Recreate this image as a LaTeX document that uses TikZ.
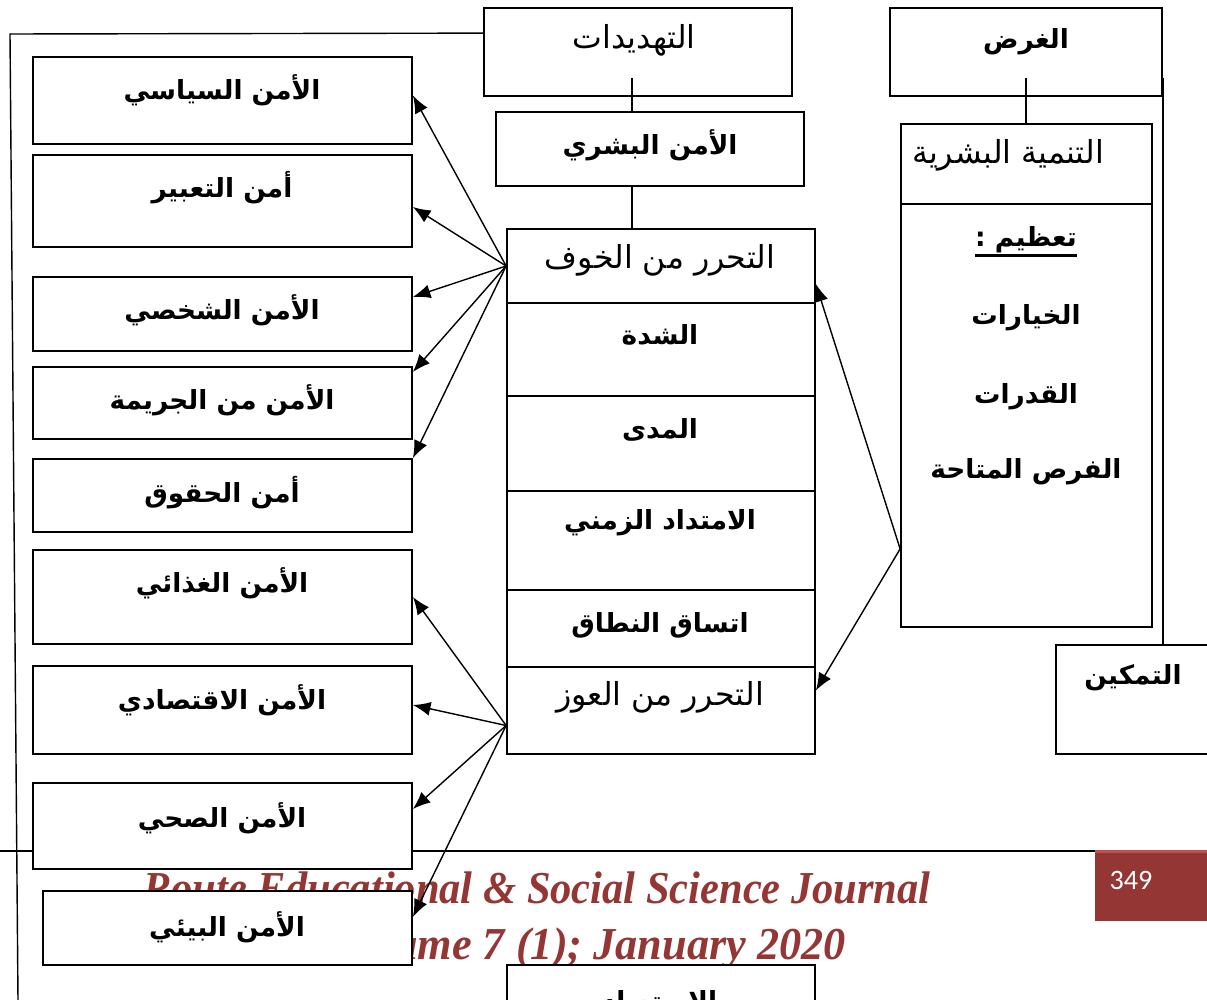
\documentclass[tikz,border=0pt]{standalone}
\usepackage{fontspec}
\usetikzlibrary{arrows.meta,calc,fit}
\TeXXeTstate=1
\newfontfamily\arabicfont[Script=Arabic]{DejaVu Sans}
\newfontfamily\footfont{Liberation Serif}
\newfontfamily\numfont{Carlito}
\definecolor{journalred}{HTML}{943634}
\definecolor{journallight}{HTML}{C0504D}
\newcommand\ar[1]{\beginR#1\endR}

\tikzset{
  box/.style={draw, fill=white, line width=1pt, inner sep=0pt},
  bold/.style={font=\arabicfont\bfseries\fontsize{15}{18}\selectfont},
  plain/.style={font=\arabicfont\fontsize{18}{22}\selectfont},
  link/.style={line width=0.8pt},
  arr/.style={link, -{Latex[length=10pt,width=8pt]}},
  foot/.style={font=\footfont\bfseries\itshape\fontsize{26}{30}\selectfont, text=journalred}
}

\begin{document}
\begin{tikzpicture}[x=0.02cm,y=-0.02cm]
\useasboundingbox (0,0) rectangle (1207,1000);
\clip (0,0) rectangle (1207,1000);
% page footer
\draw[line width=1.2pt] (0,851) -- (1095,851);
\fill[journalred] (1095,851) rectangle (1207,921);
\draw[journallight, line width=1.5pt] (1095,851.5) -- (1207,851.5);
\node[font=\numfont\fontsize{16}{18}\selectfont, text=white] (page) at (1131,880) {349};
\node[foot] (journal) at (537,888) {\scalebox{0.93}[1]{Route Educational \& Social Science Journal}};
\node[foot] (volume) at (590,949) {\scalebox{0.97}[1]{Volume 7 (1); January 2020}};

% top boxes
\node[box, fit={(484,8) (792,96)}] (threats) {};
\node[plain] (threatsT) at (634,40) {\ar{التهديدات}};
\node[box, fit={(890,8) (1162,96)}] (purp) {};
\node[bold] (purpT) at (1026,42) {\ar{الغرض}};
\node[box, fit={(496,112) (804,186)}] (human) {};
\node[bold] (humanT) at (650,145) {\ar{الأمن البشري}};

% middle column
\node[box, fit={(507,229) (815,303)}] (free) {};
\node[plain] (freeT) at (660,260) {\ar{التحرر من الخوف}};
\node[box, fit={(507,303) (815,396)}] (sev) {};
\node[bold] (sevT) at (660,335) {\ar{الشدة}};
\node[box, fit={(507,396) (815,491)}] (range) {};
\node[bold] (rangeT) at (660,430) {\ar{المدى}};
\node[box, fit={(507,491) (815,590)}] (dur) {};
\node[bold] (durT) at (660,523) {\ar{الامتداد الزمني}};
\node[box, fit={(507,590) (815,667)}] (cons) {};
\node[bold] (consT) at (660,625) {\ar{اتساق النطاق}};
\node[box, fit={(507,667) (815,754)}] (want) {};
\node[plain] (wantT) at (660,697) {\ar{التحرر من العوز}};
\node[box, fit={(507,965) (815,1040)}] (slave) {};
\node[bold] (slaveT) at (660,1003) {\ar{الاستعباد}};

% right column
\node[box, fit={(901,124) (1152,204)}] (devH) {};
\node[plain] (devHT) at (1008,155) {\ar{التنمية البشرية}};
\node[box, fit={(901,204) (1152,627)}] (devB) {};
\node[bold, inner sep=0pt] (org) at (1026,240) {\ar{تعظيم :}};
\draw[line width=1.6pt] ($(org.base west)+(0,9)$) -- ($(org.base east)+(0,9)$);
\node[bold] (choices) at (1026,318) {\ar{الخيارات}};
\node[bold] (caps) at (1026,397) {\ar{القدرات}};
\node[bold] (opps) at (1026,472) {\ar{الفرص المتاحة}};
\node[box, fit={(1056,645) (1230,754)}] (empow) {};
\node[bold] (empowT) at (1133,678) {\ar{التمكين}};

% left column
\node[box, fit={(33,57) (412,144)}] (pol) {};
\node[bold] (polT) at (222,90) {\ar{الأمن السياسي}};
\node[box, fit={(33,155) (412,247)}] (expr) {};
\node[bold] (exprT) at (222,188) {\ar{أمن التعبير}};
\node[box, fit={(33,277) (412,351)}] (pers) {};
\node[bold] (persT) at (222,310) {\ar{الأمن الشخصي}};
\node[box, fit={(33,367) (412,439)}] (crime) {};
\node[bold] (crimeT) at (222,400) {\ar{الأمن من الجريمة}};
\node[box, fit={(33,459) (412,532)}] (rights) {};
\node[bold] (rightsT) at (222,493) {\ar{أمن الحقوق}};
\node[box, fit={(33,550) (412,644)}] (food) {};
\node[bold] (foodT) at (222,583) {\ar{الأمن الغذائي}};
\node[box, fit={(33,666) (412,754)}] (econ) {};
\node[bold] (econT) at (222,700) {\ar{الأمن الاقتصادي}};
\node[box, fit={(33,783) (412,869)}] (health) {};
\node[bold] (healthT) at (222,818) {\ar{الأمن الصحي}};
\node[box, fit={(43,891) (412,965)}] (env) {};
\node[bold] (envT) at (227,927) {\ar{الأمن البيئي}};

% plain links
\coordinate (spine) at (632,0);
\coordinate (lftTop) at (10,34);
\coordinate (lftBot) at (18,1000);
\draw[link] ($(threats.south -| spine)+(0,-19)$) -- (human.north -| spine);
\draw[link] (human.south -| spine) -- (free.north -| spine);
\draw[link] ($(purp.south)+(0,-19)$) -- (devH.north -| purp.south);
\draw[link] ($(purp.south east)+(0,-19)$) -- (purp.south east |- empow.north);
\draw[link] ($(threats.north west)+(0,26)$) -- (lftTop) -- (lftBot);

% arrows
\draw[arr] (free.west) -- ($(pol.east)+(0,-5)$);
\draw[arr] (free.west) -- ($(expr.east)+(0,6)$);
\draw[arr] (free.west) -- ($(pers.east)+(0,-17)$);
\draw[arr] (free.west) -- ($(crime.east)+(0,-31)$);
\draw[arr] (free.west) -- (rights.north east);
\draw[arr] ($(want.west)+(0,15)$) -- (food.east);
\draw[arr] ($(want.west)+(0,15)$) -- ($(econ.east)+(0,-5)$);
\draw[arr] ($(want.west)+(0,15)$) -- ($(health.east)+(0,-17)$);
\draw[arr] ($(want.west)+(0,15)$) -- ($(env.east)+(0,-11)$);
\draw[arr] ($(devB.south west)+(0,-79)$) -- ($(free.east)+(0,18)$);
\draw[arr] ($(devB.south west)+(0,-79)$) -- ($(want.east)+(0,-20)$);
\end{tikzpicture}
\end{document}
